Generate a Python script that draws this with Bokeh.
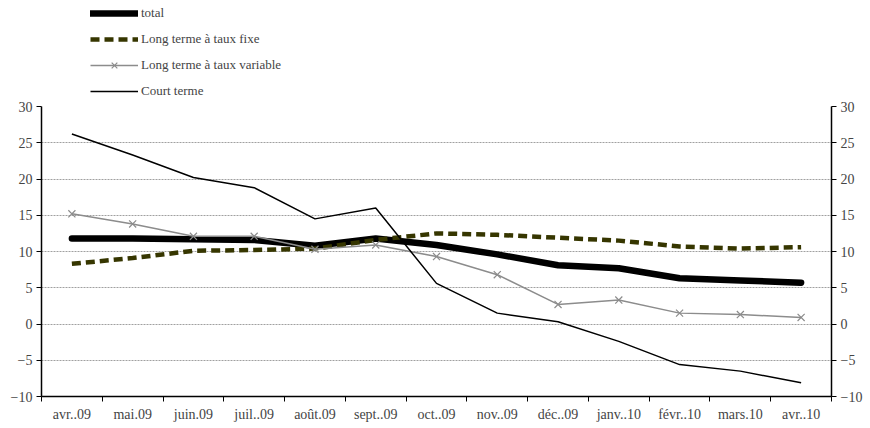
from bokeh.plotting import figure
from bokeh.layouts import column
from bokeh.models import (LinearAxis, FixedTicker, Legend, LegendItem, Range1d, ColumnDataSource)
from bokeh.embed import file_html
from bokeh.resources import INLINE

months = ["avr..09", "mai.09", "juin.09", "juil..09", "août.09", "sept..09", "oct..09",
          "nov..09", "déc..09", "janv..10", "févr..10", "mars.10", "avr..10"]
total = [11.8, 11.8, 11.7, 11.6, 10.8, 11.8, 10.9, 9.6, 8.1, 7.7, 6.3, 6.0, 5.7]
lt_fixe = [8.3, 9.1, 10.1, 10.2, 10.4, 11.6, 12.5, 12.3, 11.9, 11.5, 10.7, 10.4, 10.6]
lt_variable = [15.2, 13.8, 12.1, 12.1, 10.3, 10.9, 9.3, 6.8, 2.7, 3.3, 1.5, 1.3, 0.9]
court_terme = [26.2, 23.3, 20.2, 18.8, 14.5, 16.0, 5.6, 1.5, 0.3, -2.4, -5.6, -6.5, -8.1]
y_ticks = [-10, -5, 0, 5, 10, 15, 20, 25, 30]

xs = list(range(len(months)))
src = ColumnDataSource(dict(x=xs, total=total, fixe=lt_fixe, var=lt_variable, court=court_terme))

FONT = "'Liberation Serif', 'Times New Roman', serif"

STYLES = dict(
    total=dict(line_color="black", line_width=6.5, line_cap="round"),
    fixe=dict(line_color="#363600", line_width=4.5, line_dash="9 5"),
    var=dict(line_color="#8c8c8c", line_width=1.5),
    court=dict(line_color="black", line_width=1.5),
)


def draw(fig):
    r = {}
    r["total"] = fig.line("x", "total", source=src, **STYLES["total"])
    r["fixe"] = fig.line("x", "fixe", source=src, **STYLES["fixe"])
    r["var"] = fig.line("x", "var", source=src, **STYLES["var"])
    r["var_m"] = fig.scatter("x", "var", source=src, marker="x", size=10,
                             line_color="#8c8c8c", line_width=1.2)
    r["court"] = fig.line("x", "court", source=src, **STYLES["court"])
    return r


p = figure(frame_width=790, frame_height=290, output_backend="svg", toolbar_location=None,
           x_range=Range1d(-0.5, len(months) - 0.5), y_range=Range1d(-10, 30),
           min_border_left=41, min_border_right=23, min_border_top=9, min_border_bottom=24)
p.outline_line_color = None
draw(p)

xa = p.xaxis[0]
xa.ticker = FixedTicker(ticks=xs, minor_ticks=[i - 0.5 for i in range(len(months) + 1)])
xa.major_label_overrides = {i: m for i, m in enumerate(months)}
xa.major_tick_line_color = None
xa.minor_tick_out = 5
xa.minor_tick_in = 0
xa.minor_tick_line_color = "black"
xa.axis_line_color = "black"
xa.axis_line_width = 1.5
xa.major_label_text_font = FONT
xa.major_label_text_font_size = "14px"
xa.major_label_standoff = 4

ya = p.yaxis[0]
ya.ticker = FixedTicker(ticks=y_ticks)
ya2 = LinearAxis(ticker=FixedTicker(ticks=y_ticks))
p.add_layout(ya2, "right")
for a in (ya, ya2):
    a.major_tick_out = 5
    a.major_tick_in = 0
    a.minor_tick_line_color = None
    a.axis_line_color = "black"
    a.axis_line_width = 1.5
    a.major_label_text_font = FONT
    a.major_label_text_font_size = "14px"
    a.major_label_standoff = 4

p.xgrid.grid_line_color = None
p.ygrid.ticker = FixedTicker(ticks=y_ticks)
p.ygrid.grid_line_color = "#a0a0a0"
p.ygrid.grid_line_width = 1
p.ygrid.grid_line_dash = "2 1"

# legend figure (same data, drawn outside its visible ranges)
lg = figure(width=854, height=97, output_backend="svg", toolbar_location=None,
            x_range=Range1d(1000, 1001), y_range=Range1d(1000, 1001),
            min_border=0, x_axis_location=None, y_axis_location=None)
lg.outline_line_color = None
lg.grid.visible = False
lr = draw(lg)
legend = Legend(items=[
    LegendItem(label="total", renderers=[lr["total"]]),
    LegendItem(label="Long terme à taux fixe", renderers=[lr["fixe"]]),
    LegendItem(label="Long terme à taux variable", renderers=[lr["var"], lr["var_m"]]),
    LegendItem(label="Court terme", renderers=[lr["court"]]),
], location=(49, -4), orientation="vertical")
legend.border_line_color = None
legend.background_fill_alpha = 0
legend.label_text_font = FONT
legend.label_text_font_size = "13px"
legend.glyph_width = 48
legend.glyph_height = 20
legend.label_height = 20
legend.spacing = 6
legend.padding = 0
legend.margin = 0
legend.label_standoff = 3
lg.add_layout(legend, "center")

layout = column(lg, p, spacing=0)
open("out.html", "w").write(file_html(layout, INLINE))
